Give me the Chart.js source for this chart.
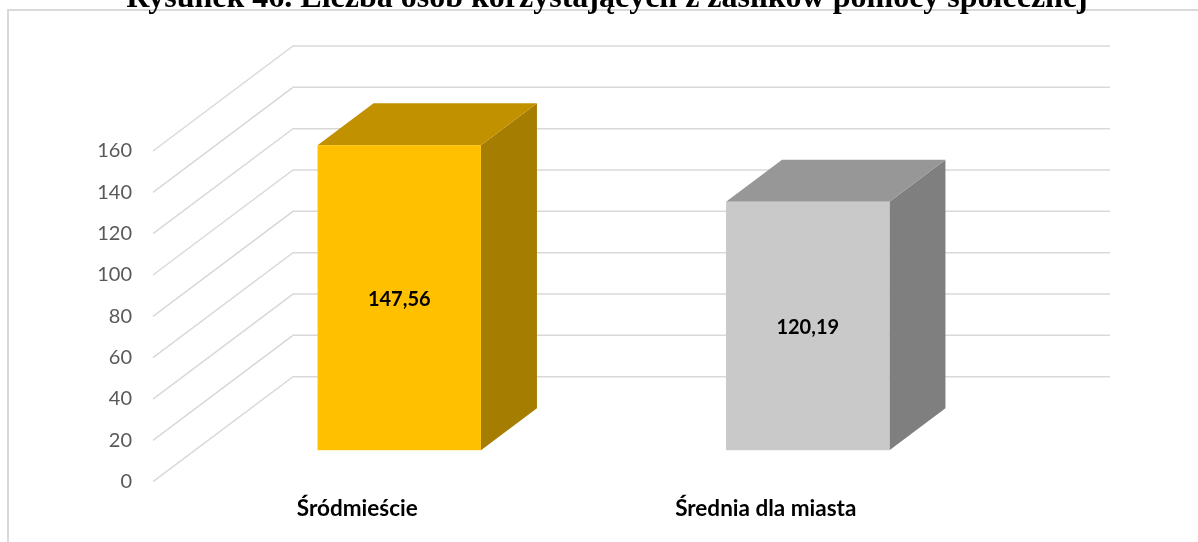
<!DOCTYPE html>
<html>
<head>
    <title>Liczba osób korzystających z zasiłków pomocy społecznej</title>
    <style>
        body {
            margin: 0;
            background: #fff;
        }
        #wrap {
            position: relative;
            width: 1198px;
            height: 542px;
            overflow: hidden;
        }
        #frame {
            position: absolute;
            left: 7px;
            top: 9px;
            width: 1300px;
            height: 700px;
            border: 2px solid #d9d9d9;
        }
        #title {
            position: absolute;
            left: 16px;
            width: 1182px;
            top: -20px;
            text-align: center;
            font: bold 32px "Liberation Serif", serif;
            line-height: 32px;
            white-space: nowrap;
            color: #000;
        }
        #chartBox {
            position: absolute;
            left: 0;
            top: 0;
            width: 1198px;
            height: 542px;
        }
    </style>
    <script src="https://cdn.jsdelivr.net/npm/chart.js"></script>
</head>
<body>
    <div id="wrap">
        <div id="frame"></div>
        <div id="chartBox"><canvas id="myChart"></canvas></div>
        <div id="title">Rysunek 46. Liczba osób korzystających z zasiłków pomocy społecznej</div>
    </div>

    <script>
        // data
        const categories = ['Śródmieście', 'Średnia dla miasta'];
        const values = [147.56, 120.19];
        const yTicks = [0, 20, 40, 60, 80, 100, 120, 140, 160];

        // box colours: front / top / side
        const frontColors = ['#ffc000', '#c9c9c9'];
        const topColors = ['#c29100', '#979797'];
        const sideColors = ['#a57d00', '#7f7f7f'];

        // 3D look: how far the back wall sits from the front plane
        const DEPTH_X = 140;
        const DEPTH_Y = 105;
        const BAR_FRONT = 0.3;   // bars start 30% into the depth
        const BAR_DEPTH = 0.4;   // and are 40% deep

        function fillPoly(ctx, color, pts) {
            ctx.beginPath();
            ctx.moveTo(pts[0][0], pts[0][1]);
            for (let i = 1; i < pts.length; i++) ctx.lineTo(pts[i][0], pts[i][1]);
            ctx.closePath();
            ctx.fillStyle = color;
            ctx.fill();
        }

        // side wall diagonals + back wall gridlines
        const walls = {
            id: 'walls',
            beforeDatasetsDraw(chart) {
                const ctx = chart.ctx;
                const a = chart.chartArea;
                const y = chart.scales.y;
                ctx.save();
                ctx.strokeStyle = '#d9d9d9';
                ctx.lineWidth = 1.5;
                y.ticks.forEach(t => {
                    const py = y.getPixelForValue(t.value);
                    ctx.beginPath();
                    ctx.moveTo(a.left, py);
                    ctx.lineTo(a.left + DEPTH_X, py - DEPTH_Y);
                    ctx.lineTo(a.right + DEPTH_X, py - DEPTH_Y);
                    ctx.stroke();
                });
                ctx.restore();
            }
        };

        // draws each bar as a box, pushed back into the depth
        const boxes = {
            id: 'boxes',
            afterDatasetsDraw(chart) {
                const ctx = chart.ctx;
                const meta = chart.getDatasetMeta(0);
                const ox = DEPTH_X * BAR_FRONT, oy = -DEPTH_Y * BAR_FRONT;
                const dx = DEPTH_X * BAR_DEPTH, dy = -DEPTH_Y * BAR_DEPTH;
                ctx.save();
                meta.data.forEach((bar, i) => {
                    const l = bar.x - bar.width / 2 + ox;
                    const r = bar.x + bar.width / 2 + ox;
                    const t = bar.y + oy;
                    const b = bar.base + oy;
                    fillPoly(ctx, sideColors[i], [[r, t], [r + dx, t + dy], [r + dx, b + dy], [r, b]]);
                    fillPoly(ctx, topColors[i], [[l, t], [l + dx, t + dy], [r + dx, t + dy], [r, t]]);
                    ctx.fillStyle = frontColors[i];
                    ctx.fillRect(l, t, r - l, b - t);

                    ctx.font = 'bold 20px Lato';
                    ctx.fillStyle = '#000';
                    ctx.textAlign = 'center';
                    ctx.textBaseline = 'middle';
                    ctx.fillText(values[i].toFixed(2).replace('.', ','), (l + r) / 2, (t + b) / 2 + 2);
                });
                ctx.restore();
            }
        };

        let ctx = document.getElementById('myChart').getContext('2d');
        let myChart = new Chart(ctx, {
            type: 'bar',
            data: {
                labels: categories,
                datasets: [{
                    data: values,
                    backgroundColor: 'rgba(0,0,0,0)',
                    borderWidth: 0,
                    barPercentage: 0.4,
                    categoryPercentage: 1
                }]
            },
            plugins: [walls, boxes],
            options: {
                responsive: true,
                maintainAspectRatio: false,
                animation: false,
                layout: {
                    padding: { top: 151, right: 228, bottom: 0, left: 0 }
                },
                plugins: {
                    legend: { display: false },
                    tooltip: { enabled: false }
                },
                scales: {
                    x: {
                        grid: { display: false, drawTicks: false },
                        border: { display: false },
                        ticks: {
                            padding: 14,
                            color: '#000',
                            font: { family: 'Lato', size: 22.5, weight: 'bold' }
                        },
                        afterFit(scale) { scale.height = 60.3; }
                    },
                    y: {
                        min: 0,
                        max: 160,
                        grid: { display: false, drawTicks: false },
                        border: { display: false },
                        afterBuildTicks(scale) {
                            scale.ticks = yTicks.map(v => ({ value: v }));
                        },
                        ticks: {
                            padding: 21,
                            color: '#595959',
                            font: { family: 'Lato', size: 20 }
                        },
                        afterFit(scale) { scale.width = 153; }
                    }
                }
            }
        });
    </script>
</body>
</html>
